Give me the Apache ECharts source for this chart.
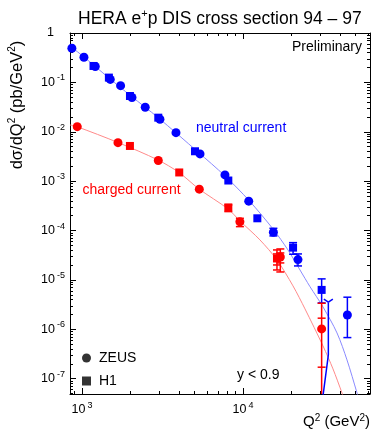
<!DOCTYPE html>
<html>
<head>
    <meta charset="utf-8">
    <title>HERA e+p DIS cross section 94 - 97</title>
    <script src="https://cdn.jsdelivr.net/npm/echarts@6/dist/echarts.min.js"></script>
    <style>
        html, body { margin: 0; padding: 0; background: #fff; }
        #main { width: 382px; height: 436px; }
    </style>
</head>
<body>
<div id="main"></div>
<script type="text/javascript">
    // axis ranges and tick labels
    var xRange = [843, 61500];
    var yRange = [4.9e-8, 1];
    var xMajor = [1000, 10000];
    var yMajor = [1e-7, 1e-6, 1e-5, 1e-4, 1e-3, 1e-2, 1e-1, 1];

    // neutral current points [Q2, dsigma/dQ2]
    var ncZeus = [[866, 0.49], [1029, 0.322], [1210, 0.21], [1500, 0.115], [1738, 0.0858], [2045, 0.0495],
        [2472, 0.0313], [3051, 0.0179], [3837, 0.0096], [5410, 0.00356], [7730, 0.00134], [10860, 3.94e-4],
        [15450, 9.24e-5], [21960, 2.58e-5], [44500, 1.95e-6]];
    var ncH1 = [[1180, 0.215], [1470, 0.125], [1987, 0.053], [2979, 0.0193], [5036, 0.00403], [8110, 0.00103],
        [12280, 1.77e-4], [20470, 4.51e-5], [30800, 6.28e-6]];
    // charged current points
    var ccZeus = [[935, 0.01268], [1674, 0.00602], [2979, 0.00262], [5357, 6.89e-4], [9570, 1.51e-4],
        [17060, 2.92e-5], [30800, 1.02e-6]];
    var ccH1 = [[1986, 0.00516], [4020, 0.0015], [8110, 2.94e-4], [16260, 2.72e-5]];

    // error bars [Q2, low, high, innerLow, innerHigh]
    var ncZeusErr = [[15450, 7.78e-5, 1.11e-4, NaN, NaN], [21960, 1.92e-5, 3.36e-5, NaN, NaN],
        [44500, 6.8e-7, 4.47e-6, NaN, NaN]];
    var ncH1Err = [[20470, 3.31e-5, 5.69e-5, NaN, NaN], [30800, 3.42e-6, 1.05e-5, NaN, NaN]];
    var ccZeusErr = [[9570, 1.2e-4, 1.77e-4, NaN, NaN], [17060, 1.45e-5, 4.24e-5, 2.21e-5, 3.52e-5],
        [30800, 1e-9, 3.37e-6, 1.71e-7, 1.68e-6]];
    var ccH1Err = [[8110, 2.42e-4, 3.3e-4, NaN, NaN], [16260, 1.59e-5, 4.05e-5, 2.01e-5, 3.36e-5]];
    // H1 NC point below the frame, only its error bar shows
    var ncH1Open = [[33900, 3.54e-6], [33900, 3.03e-7], [31260, 4e-8]];

    // standard model curves
    var ncCurve = [[843, 0.546], [1029, 0.327], [1471, 0.1228], [2015, 0.0531], [2965, 0.01948], [5254, 0.0039],
        [7733, 0.001274], [10897, 4.07e-4], [15360, 1.077e-4], [19030, 4.05e-5], [22600, 1.59e-5],
        [26070, 7.31e-6], [31400, 2.84e-6], [38360, 8.45e-7], [44260, 2.4e-7], [51070, 5.16e-8], [52500, 3.7e-8]];
    var ccCurve = [[843, 0.01373], [931, 0.01268], [1673, 0.00607], [2965, 0.002685], [4004, 0.0015],
        [5330, 6.95e-4], [8069, 2.74e-4], [9580, 1.564e-4], [12754, 6.45e-5], [16263, 2.54e-5],
        [20447, 7.57e-6], [24275, 2.59e-6], [31400, 4.61e-7], [36220, 1.58e-7], [41200, 5.16e-8], [43630, 3.09e-8]];

    var BLUE = '#0000ff', RED = '#ff0000';
    var FONT = 'Liberation Sans, Arial, sans-serif';

    function minorTicks(e0, e1) {
        var out = [];
        for (var e = e0; e <= e1; e++) {
            for (var k = 2; k <= 9; k++) out.push(k * Math.pow(10, e));
        }
        return out;
    }
    var xMinor = minorTicks(2, 4);
    var yMinor = minorTicks(-8, -1);

    function powLabel(v) {
        var e = Math.round(Math.log(v) / Math.LN10);
        if (e === 0) return '{b|1}{p|}';
        return '{b|10}{e|' + e + '}';
    }
    var labelRich = {
        b: {fontSize: 12.5, fontFamily: FONT, color: '#000', lineHeight: 18},
        e: {fontSize: 9, fontFamily: FONT, color: '#000', lineHeight: 9, verticalAlign: 'top', padding: [0, 0, 0, 2]},
        p: {width: 11}
    };

    function makeAxis(dim, pos, major, minor, isMinor, withLabel) {
        var range = dim === 'x' ? xRange : yRange;
        return {
            type: 'log', logBase: 10, gridIndex: 0, position: pos,
            min: range[0], max: range[1],
            axisLine: {show: !isMinor, onZero: false, lineStyle: {color: '#000', width: 1}},
            axisTick: {show: true, inside: true, length: isMinor ? 3 : 6,
                customValues: isMinor ? minor : major, lineStyle: {color: '#000', width: 1}},
            axisLabel: withLabel ? {show: true, customValues: major, formatter: powLabel, rich: labelRich,
                margin: dim === 'x' ? 7 : 5} : {show: false},
            splitLine: {show: false},
            minorTick: {show: false}
        };
    }

    function errRender(color) {
        return function (params, api) {
            var x = api.value(0);
            var lo = api.coord([x, api.value(1)]);
            var hi = api.coord([x, api.value(2)]);
            var st = {stroke: color, lineWidth: 1.5};
            var kids = [
                {type: 'line', shape: {x1: lo[0], y1: lo[1], x2: hi[0], y2: hi[1]}, style: st},
                {type: 'line', shape: {x1: hi[0] - 4, y1: hi[1], x2: hi[0] + 4, y2: hi[1]}, style: st},
                {type: 'line', shape: {x1: lo[0] - 4, y1: lo[1], x2: lo[0] + 4, y2: lo[1]}, style: st}
            ];
            var il = api.value(3), ih = api.value(4);
            if (isFinite(il) && isFinite(ih)) {
                var a = api.coord([x, il]), b = api.coord([x, ih]);
                kids.push({type: 'line', shape: {x1: a[0] - 4, y1: a[1], x2: a[0] + 4, y2: a[1]}, style: st});
                kids.push({type: 'line', shape: {x1: b[0] - 4, y1: b[1], x2: b[0] + 4, y2: b[1]}, style: st});
            }
            return {type: 'group', children: kids};
        };
    }

    function errSeries(name, data, color) {
        return {
            name: name, type: 'custom', clip: true, data: data, z: 3,
            encode: {x: 0, y: [1, 2]},
            renderItem: errRender(color)
        };
    }

    function pointSeries(name, data, color, symbol, size) {
        return {
            name: name, type: 'scatter', data: data, symbol: symbol, symbolSize: size, z: 4,
            itemStyle: {color: color, opacity: 1}
        };
    }

    var myChart = echarts.init(document.getElementById('main'));
    var option = {
        animation: false,
        textStyle: {fontFamily: FONT},
        title: {
            text: '{a|HERA e}{s|+}{a|p DIS cross section 94 – 97}',
            left: 73, top: 3,
            textStyle: {
                fontWeight: 'normal',
                rich: {
                    a: {fontSize: 17.5, fontFamily: FONT, fontWeight: 'normal', color: '#000', lineHeight: 22},
                    s: {fontSize: 11, fontFamily: FONT, fontWeight: 'normal', color: '#000', lineHeight: 11,
                        verticalAlign: 'top'}
                }
            }
        },
        grid: {left: 70, right: 12, top: 33, bottom: 42},
        legend: {
            orient: 'vertical', left: 77, top: 346, itemWidth: 9, itemHeight: 9, itemGap: 9,
            selectedMode: false,
            textStyle: {fontSize: 14, color: '#000', fontFamily: FONT, padding: [0, 0, 0, 3]},
            data: [{name: 'ZEUS', icon: 'circle'}, {name: 'H1', icon: 'rect'}]
        },
        xAxis: [
            makeAxis('x', 'bottom', xMajor, xMinor, false, true),
            makeAxis('x', 'bottom', xMajor, xMinor, true, false),
            makeAxis('x', 'top', xMajor, xMinor, false, false),
            makeAxis('x', 'top', xMajor, xMinor, true, false)
        ],
        yAxis: [
            makeAxis('y', 'left', yMajor, yMinor, false, true),
            makeAxis('y', 'left', yMajor, yMinor, true, false),
            makeAxis('y', 'right', yMajor, yMinor, false, false),
            makeAxis('y', 'right', yMajor, yMinor, true, false)
        ],
        graphic: [
            {type: 'text', x: 362, y: 47, style: {text: 'Preliminary', fill: '#000', font: '14px ' + FONT,
                align: 'right', verticalAlign: 'middle'}},
            {type: 'text', x: 196, y: 128, style: {text: 'neutral current', fill: BLUE, font: '14px ' + FONT,
                align: 'left', verticalAlign: 'middle'}},
            {type: 'text', x: 82.5, y: 190.5, style: {text: 'charged current', fill: RED, font: '14px ' + FONT,
                align: 'left', verticalAlign: 'middle'}},
            {type: 'text', x: 237, y: 375, style: {text: 'y < 0.9', fill: '#000', font: '14px ' + FONT,
                align: 'left', verticalAlign: 'middle'}},
            {type: 'text', x: 370, y: 422, style: {
                text: '{n|Q}{s|2}{n| (GeV}{s|2}{n|)}', align: 'right', verticalAlign: 'middle',
                rich: {
                    n: {fontSize: 15, fontFamily: FONT, fill: '#000', lineHeight: 18},
                    s: {fontSize: 10, fontFamily: FONT, fill: '#000', lineHeight: 10, verticalAlign: 'top'}
                }
            }},
            {type: 'text', x: 17, y: 105, rotation: Math.PI / 2, style: {
                text: '{n|dσ/dQ}{s|2}{n| (pb/GeV}{s|2}{n|)}', align: 'center', verticalAlign: 'middle',
                rich: {
                    n: {fontSize: 16.5, fontFamily: FONT, fill: '#000', lineHeight: 19},
                    s: {fontSize: 10, fontFamily: FONT, fill: '#000', lineHeight: 10, verticalAlign: 'top'}
                }
            }}
        ],
        series: [
            {name: 'nc curve', type: 'line', data: ncCurve, smooth: 0.3, showSymbol: false, z: 2,
                lineStyle: {color: '#8a8aff', width: 1}, itemStyle: {color: '#8a8aff'}},
            {name: 'cc curve', type: 'line', data: ccCurve, smooth: 0.3, showSymbol: false, z: 2,
                lineStyle: {color: '#ff8a8a', width: 1}, itemStyle: {color: '#ff8a8a'}},
            {name: 'nc H1 open', type: 'line', data: ncH1Open, showSymbol: false, z: 3,
                lineStyle: {color: BLUE, width: 1.5}, itemStyle: {color: BLUE}},
            {
                name: 'nc H1 cap', type: 'custom', clip: true, data: ncH1Open.slice(0, 1), z: 3,
                renderItem: function (params, api) {
                    var p = api.coord([api.value(0), api.value(1)]);
                    var st = {stroke: BLUE, lineWidth: 1.5};
                    return {type: 'group', children: [
                        {type: 'line', shape: {x1: p[0] - 4.5, y1: p[1] - 3, x2: p[0], y2: p[1]}, style: st},
                        {type: 'line', shape: {x1: p[0] + 4.5, y1: p[1] - 3, x2: p[0], y2: p[1]}, style: st}
                    ]};
                }
            },
            errSeries('nc zeus err', ncZeusErr, BLUE),
            errSeries('nc h1 err', ncH1Err, BLUE),
            errSeries('cc zeus err', ccZeusErr, RED),
            errSeries('cc h1 err', ccH1Err, RED),
            pointSeries('nc zeus', ncZeus, BLUE, 'circle', 9),
            pointSeries('nc h1', ncH1, BLUE, 'rect', 8),
            pointSeries('cc zeus', ccZeus, RED, 'circle', 9),
            pointSeries('cc h1', ccH1, RED, 'rect', 8),
            {name: 'ZEUS', type: 'scatter', data: [], symbol: 'circle', itemStyle: {color: '#000'}},
            {name: 'H1', type: 'scatter', data: [], symbol: 'rect', itemStyle: {color: '#000'}}
        ]
    };
    myChart.setOption(option);
</script>
</body>
</html>
